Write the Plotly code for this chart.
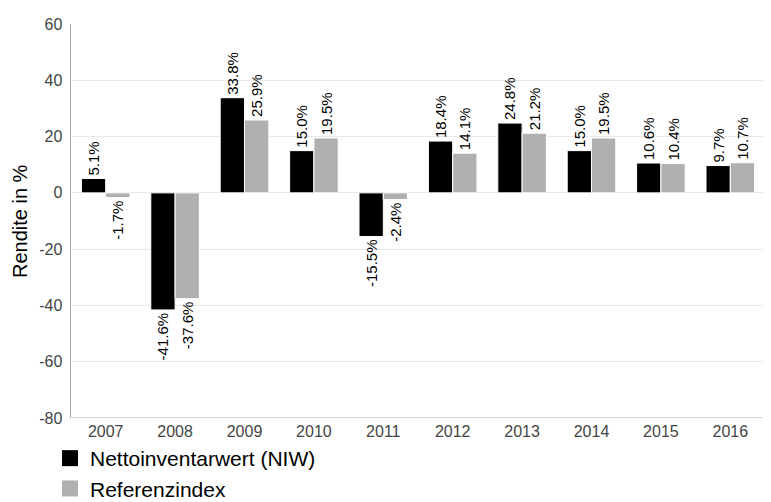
import plotly.graph_objects as go

years = ["2007", "2008", "2009", "2010", "2011", "2012", "2013", "2014", "2015", "2016"]
niw = [5.1, -41.6, 33.8, 15.0, -15.5, 18.4, 24.8, 15.0, 10.6, 9.7]
ref = [-1.7, -37.6, 25.9, 19.5, -2.4, 14.1, 21.2, 19.5, 10.4, 10.7]
y_ticks = [-80, -60, -40, -20, 0, 20, 40, 60]
series_names = ["Nettoinventarwert (NIW)", "Referenzindex"]
colors = ["#000000", "#b0b0b0"]

fig = go.Figure()
for name, vals, col in zip(series_names, [niw, ref], colors):
    fig.add_trace(go.Bar(
        x=years, y=vals, name=name, marker=dict(color=col, line=dict(color="#ffffff", width=1)),
        text=[f"{v:.1f}%" for v in vals], textposition="outside", textangle=-90,
        textfont=dict(size=15, color="#000000"), constraintext="none", cliponaxis=False,
        showlegend=False,
    ))
    fig.add_trace(go.Scatter(
        x=[None], y=[None], mode="markers", name=name,
        marker=dict(symbol="square", size=22, color=col),
    ))

# page body has an 8px offset; margins compensate for it
fig.update_layout(
    width=771, height=502,
    margin=dict(l=63, r=14, t=16, b=92, autoexpand=False),
    paper_bgcolor="white", plot_bgcolor="white",
    font=dict(family="Liberation Sans, Arial, sans-serif", size=16, color="#444444"),
    barmode="group", bargap=0.3, bargroupgap=0.0,
    showlegend=True,
    legend=dict(xref="container", yref="container", x=42/771, y=1 - 430/502,
                xanchor="left", yanchor="top", orientation="v",
                font=dict(size=21, color="#000000"), itemwidth=30, tracegroupgap=0,
                bgcolor="rgba(0,0,0,0)"),
    xaxis=dict(showline=False, ticks="", ticklabelstandoff=2,
               tickfont=dict(size=16, color="#444444")),
    yaxis=dict(range=[-80, 60], tickvals=y_ticks, ticktext=[f"{t}\u00a0" for t in y_ticks],
               showgrid=True, gridcolor="#e8e8e8",
               zeroline=True, zerolinecolor="#e8e8e8", zerolinewidth=1,
               showline=True, linecolor="#aaaaaa", ticks="", ticklen=0,
               tickfont=dict(size=16, color="#444444")),
)
fig.add_annotation(text="Rendite in %", xref="paper", yref="paper", x=-0.0735, y=0.5,
                   xanchor="center", yanchor="middle", textangle=-90, showarrow=False,
                   font=dict(size=20, color="#000000"))
fig.add_shape(type="line", xref="paper", yref="y", x0=0, x1=1, y0=-80, y1=-80,
              line=dict(color="#aaaaaa", width=1))
fig.write_html("out.html")
